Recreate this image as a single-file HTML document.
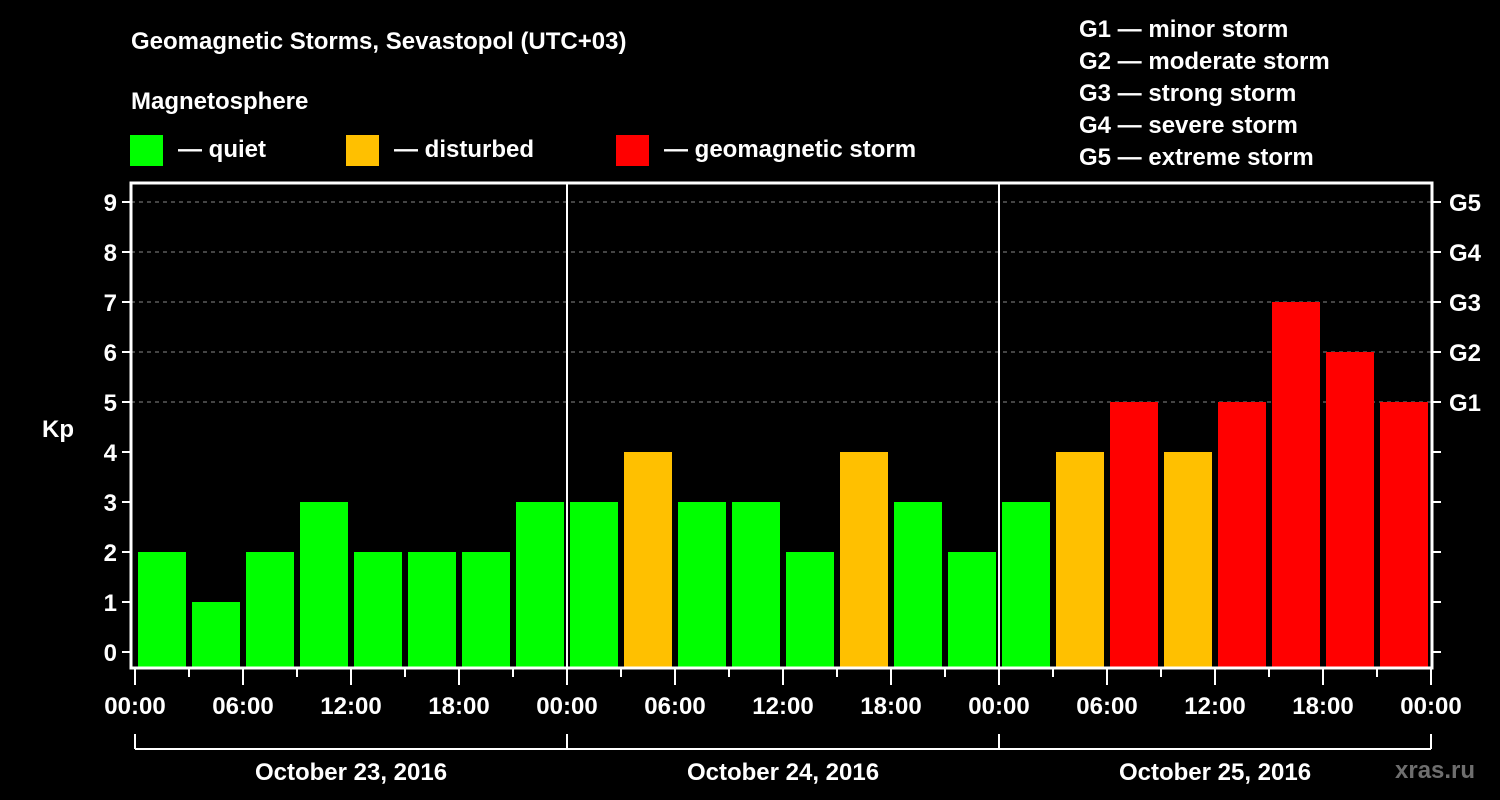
<!DOCTYPE html>
<html><head><meta charset="utf-8"><style>
html,body{margin:0;padding:0;background:#000;}
svg{display:block;font-family:"Liberation Sans",Arial,sans-serif;font-weight:bold;}
</style></head><body>
<svg id="chart" width="1500" height="800" viewBox="0 0 1500 800">
<rect width="1500" height="800" fill="#000"/>
<text x="131" y="49" font-size="24" fill="#fff">Geomagnetic Storms, Sevastopol (UTC+03)</text>
<text x="131" y="109" font-size="24" fill="#fff">Magnetosphere</text>
<g><rect x="130" y="135" width="33" height="31" fill="#00ff00"/><text x="178" y="157" font-size="24" fill="#fff">— quiet</text></g>
<g><rect x="346" y="135" width="33" height="31" fill="#ffc000"/><text x="394" y="157" font-size="24" fill="#fff">— disturbed</text></g>
<g><rect x="616" y="135" width="33" height="31" fill="#ff0000"/><text x="664" y="157" font-size="24" fill="#fff">— geomagnetic storm</text></g>
<g font-size="24" fill="#fff">
<text x="1079" y="37">G1 — minor storm</text>
<text x="1079" y="69">G2 — moderate storm</text>
<text x="1079" y="101">G3 — strong storm</text>
<text x="1079" y="133">G4 — severe storm</text>
<text x="1079" y="165">G5 — extreme storm</text>
</g>
<text x="42" y="437" font-size="24" fill="#fff">Kp</text>
<text x="1395" y="778" font-size="24" fill="#6e6e6e">xras.ru</text>
<g id="grid"></g>
<g id="bars"></g>
<g id="axes"></g>
</svg>
<script>
const kpValues = [2,1,2,3,2,2,2,3, 3,4,3,3,2,4,3,2, 3,4,5,4,5,7,6,5];
const yTicks = [0,1,2,3,4,5,6,7,8,9];
const gLabels = ["G1","G2","G3","G4","G5"];
const gLevels = [5,6,7,8,9];
const hourLabels = ["00:00","06:00","12:00","18:00"];
const dayLabels = ["October 23, 2016","October 24, 2016","October 25, 2016"];

const NS="http://www.w3.org/2000/svg";
const X0=135, STEP=54, Y0=652, YU=50, LEFT=131, RIGHT=1432, TOP=183, BOTTOM=668;
const xs = i => X0 + STEP*i;
const ys = v => Y0 - YU*v;
function mk(tag, attrs, parent){const e=document.createElementNS(NS,tag);for(const k in attrs)e.setAttribute(k,attrs[k]);parent.appendChild(e);return e;}
const grid=document.getElementById('grid'), bars=document.getElementById('bars'), axes=document.getElementById('axes');

yTicks.forEach(v=>{
  if(v>=5){const l=mk('line',{x1:LEFT,x2:RIGHT,y1:ys(v),y2:ys(v),stroke:'#888','stroke-width':1,'stroke-dasharray':'4,4'},grid);
  
  }
  const t=mk('line',{x1:LEFT-9,x2:LEFT,y1:ys(v),y2:ys(v),stroke:'#fff','stroke-width':2},axes);
  
  
  const r=mk('line',{x1:RIGHT,x2:RIGHT+9,y1:ys(v),y2:ys(v),stroke:'#fff','stroke-width':2},axes);
  
  
  const tx=mk('text',{x:LEFT-14,y:ys(v)+9,'text-anchor':'end','font-size':24,fill:'#fff'},axes);
  tx.textContent=v;
  
  
});
gLabels.forEach((g,i)=>{
  const tx=mk('text',{x:1449,y:ys(gLevels[i])+9,'font-size':24,fill:'#fff'},axes);
  tx.textContent=g;
  
  
});
kpValues.forEach((v,i)=>{
  const c=v>=5?'#ff0000':(v>=4?'#ffc000':'#00ff00');
  const b=mk('rect',{x:xs(i)+3,y:ys(v),width:STEP-6,height:BOTTOM-1-ys(v),fill:c},bars);
  
  
});
// frame
const fr=mk('rect',{x:LEFT,y:TOP,width:RIGHT-LEFT,height:BOTTOM-TOP,fill:'none',stroke:'#fff','stroke-width':3},axes);


for(let i=0;i<=kpValues.length;i++){
  const major=i%2===0;
  const t=mk('line',{x1:xs(i),x2:xs(i),y1:BOTTOM,y2:major?685:677,stroke:'#fff','stroke-width':2},axes);
  
  
  if(major){
    const tx=mk('text',{x:xs(i),y:714,'text-anchor':'middle','font-size':24,fill:'#fff'},axes);
    tx.textContent=hourLabels[(i/2)%4];
    
    
  }
  if(i%8===0){
    if(i>0&&i<kpValues.length){const d=mk('line',{x1:xs(i),x2:xs(i),y1:TOP,y2:BOTTOM,stroke:'#fff','stroke-width':2},axes);
    
    }
    const bt=mk('line',{x1:xs(i),x2:xs(i),y1:734,y2:749,stroke:'#fff','stroke-width':2},axes);
    
    
  }
}
const br=mk('line',{x1:xs(0),x2:xs(kpValues.length),y1:749,y2:749,stroke:'#fff','stroke-width':2},axes);


dayLabels.forEach((d,k)=>{
  const tx=mk('text',{x:(xs(k*8)+xs(k*8+8))/2,y:780,'text-anchor':'middle','font-size':24,fill:'#fff'},axes);
  tx.textContent=d;
  
  
});
</script>
</body></html>
